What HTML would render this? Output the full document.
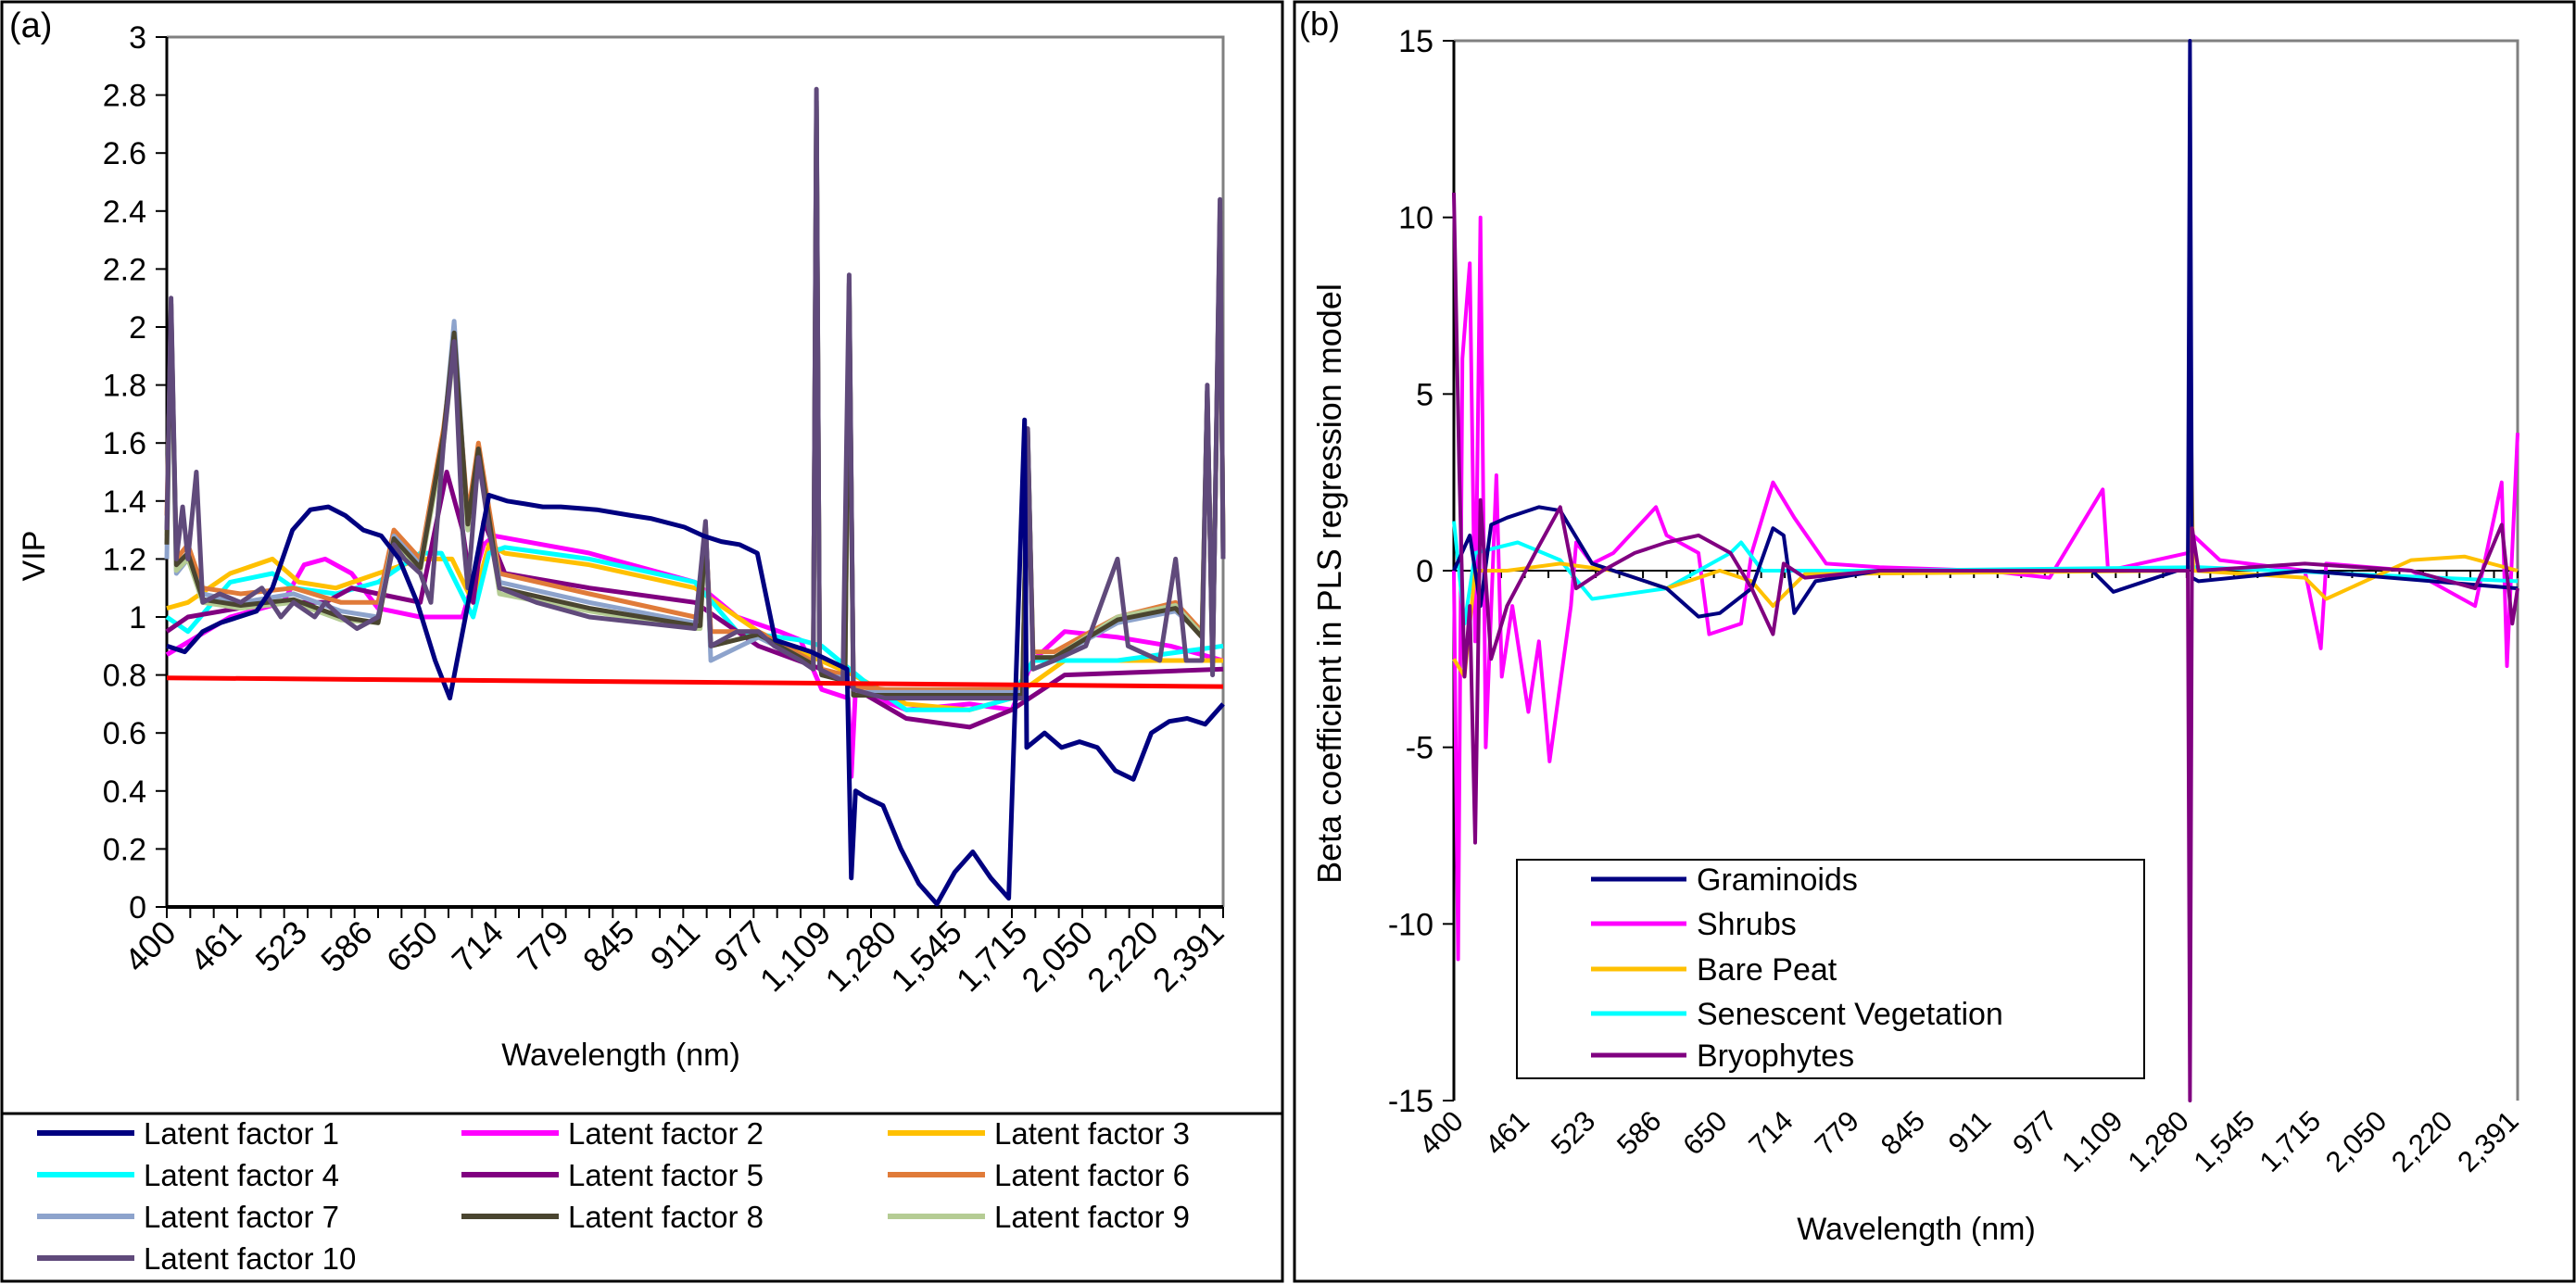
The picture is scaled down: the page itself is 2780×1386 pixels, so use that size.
<!DOCTYPE html>
<html><head><meta charset="utf-8"><style>
html,body{margin:0;padding:0;background:#fff}
svg{display:block;font-family:"Liberation Sans",sans-serif}
</style></head><body>
<svg id="chart" width="2780" height="1386" viewBox="0 0 2780 1386" xmlns="http://www.w3.org/2000/svg">
<rect x="2" y="2" width="1382" height="1381" fill="none" stroke="#000" stroke-width="3"/>
<line x1="2" y1="1202" x2="1384" y2="1202" stroke="#000" stroke-width="3"/>
<rect x="1397" y="2" width="1381" height="1381" fill="none" stroke="#000" stroke-width="3"/>
<text x="10" y="40" font-size="38">(a)</text>
<text x="1402" y="38" font-size="36">(b)</text>
<g id="ga"></g>
<g id="gb"></g>
</svg>
<script>
// ---- shared category data ----
const xTickLabels = ["400","461","523","586","650","714","779","845","911","977","1,109","1,280","1,545","1,715","2,050","2,220","2,391"];
const xTickBands = [0,62,124,186,248,310,372,434,496,558,620,682,744,806,868,930,992];
const bandMax = 1000;

// ---- panel a data (VIP) ----
const aYTicks = [0,0.2,0.4,0.6,0.8,1,1.2,1.4,1.6,1.8,2,2.2,2.4,2.6,2.8,3];
const aYTickLabels = ["0","0.2","0.4","0.6","0.8","1","1.2","1.4","1.6","1.8","2","2.2","2.4","2.6","2.8","3"];
const lf1Bands = [0,17,34,51,68,85,100,119,136,153,169,186,203,220,237,254,268,288,305,322,339,356,373,407,440,458,490,508,525,542,559,576,593,610,627,644,648,652,661,678,695,712,729,746,763,780,797,812,814,831,847,864,881,898,915,932,949,966,983,1000];
const lf1Vals = [0.9,0.88,0.95,0.98,1.0,1.02,1.1,1.3,1.37,1.38,1.35,1.3,1.28,1.2,1.05,0.85,0.72,1.1,1.42,1.4,1.39,1.38,1.38,1.37,1.35,1.34,1.31,1.28,1.26,1.25,1.22,0.92,0.9,0.88,0.85,0.82,0.1,0.4,0.38,0.35,0.2,0.08,0.01,0.12,0.19,0.1,0.03,1.68,0.55,0.6,0.55,0.57,0.55,0.47,0.44,0.6,0.64,0.65,0.63,0.7];
const lf2Bands = [0,60,110,130,150,175,200,240,280,300,310,400,500,540,580,600,620,645,648,652,700,760,800,820,850,900,950,1000];
const lf2Vals = [0.87,1.0,1.05,1.18,1.2,1.15,1.03,1.0,1.0,1.25,1.28,1.22,1.12,1.0,0.95,0.92,0.75,0.72,0.45,0.75,0.68,0.7,0.68,0.85,0.95,0.93,0.9,0.85];
const lf3Bands = [0,20,60,100,125,160,200,240,270,290,305,320,400,500,560,600,650,700,760,800,850,1000];
const lf3Vals = [1.03,1.05,1.15,1.2,1.12,1.1,1.15,1.2,1.2,1.05,1.25,1.22,1.18,1.1,0.95,0.88,0.8,0.7,0.68,0.72,0.85,0.85];
const lf4Bands = [0,20,60,100,120,160,200,240,260,290,305,320,400,500,540,600,620,660,700,760,800,820,900,1000];
const lf4Vals = [1.0,0.95,1.12,1.15,1.1,1.08,1.12,1.22,1.22,1.0,1.22,1.24,1.2,1.12,0.95,0.92,0.9,0.78,0.68,0.68,0.72,0.85,0.85,0.9];
const lf5Bands = [0,20,100,150,175,200,240,265,280,290,300,320,400,500,560,620,700,760,800,850,1000];
const lf5Vals = [0.95,1.0,1.05,1.05,1.1,1.08,1.05,1.5,1.3,1.05,1.33,1.15,1.1,1.05,0.9,0.82,0.65,0.62,0.68,0.8,0.82];
const lf6Bands = [0,4,9,20,34,70,120,165,200,215,240,262,272,285,295,315,400,500,505,510,515,560,610,612,615,618,620,642,646,650,680,760,810,815,820,840,900,955,980,985,990,997,1000];
const lf6Vals = [1.35,2.0,1.2,1.25,1.1,1.08,1.1,1.05,1.05,1.3,1.2,1.65,1.95,1.35,1.6,1.15,1.08,1.0,1.0,1.3,0.95,0.95,0.85,0.85,2.7,0.85,0.82,0.8,2.1,0.76,0.75,0.75,0.75,1.6,0.88,0.88,1.0,1.05,0.95,1.75,0.85,2.35,1.25];
const lf7Bands = [0,4,9,20,34,70,120,165,200,215,240,262,272,285,295,315,400,500,505,510,515,560,610,612,615,618,620,642,646,650,680,760,810,815,820,840,900,955,980,985,990,997,1000];
const lf7Vals = [1.2,2.05,1.15,1.2,1.08,1.05,1.08,1.02,1.0,1.28,1.18,1.62,2.02,1.3,1.55,1.12,1.05,0.98,0.98,1.3,0.85,0.93,0.84,0.84,2.75,0.84,0.8,0.79,2.12,0.74,0.74,0.74,0.74,1.62,0.86,0.86,0.98,1.02,0.94,1.78,0.84,2.38,1.22];
const lf8Bands = [0,4,9,20,34,70,120,165,200,215,240,262,272,285,295,315,400,500,505,510,515,560,610,612,615,618,620,642,646,650,680,760,810,815,820,840,900,955,980,985,990,997,1000];
const lf8Vals = [1.25,2.08,1.18,1.22,1.06,1.04,1.06,1.0,0.98,1.27,1.17,1.63,1.98,1.32,1.58,1.1,1.03,0.97,0.97,1.32,0.9,0.94,0.84,0.84,2.78,0.84,0.8,0.78,2.15,0.73,0.73,0.73,0.73,1.64,0.86,0.86,0.99,1.03,0.93,1.78,0.83,2.4,1.22];
const lf9Bands = [0,4,9,20,34,70,120,165,200,215,240,262,272,285,295,315,400,500,505,510,515,560,610,612,615,618,620,642,646,650,680,760,810,815,820,840,900,955,980,985,990,997,1000];
const lf9Vals = [1.28,2.06,1.16,1.2,1.05,1.03,1.05,0.99,0.98,1.26,1.16,1.6,1.93,1.3,1.56,1.08,1.02,0.96,0.96,1.3,0.9,0.94,0.84,0.84,2.76,0.84,0.8,0.78,2.14,0.73,0.73,0.73,0.73,1.63,0.86,0.86,1.0,1.04,0.94,1.77,0.84,2.39,1.21];
const lf10Bands = [0,4,9,15,20,28,34,50,70,90,108,120,140,150,165,180,200,215,225,240,250,262,272,280,285,295,305,315,350,400,450,500,510,515,540,560,575,600,612,615,618,640,646,650,680,720,760,800,812,815,820,840,870,900,910,940,955,965,980,985,990,997,1000];
const lf10Vals = [1.3,2.1,1.2,1.38,1.2,1.5,1.05,1.08,1.05,1.1,1.0,1.05,1.0,1.05,1.0,0.96,1.0,1.25,1.2,1.15,1.05,1.6,1.95,1.3,1.1,1.55,1.3,1.1,1.05,1.0,0.98,0.96,1.33,0.9,0.95,0.95,0.9,0.85,0.82,2.82,0.82,0.78,2.18,0.75,0.72,0.72,0.72,0.72,0.72,1.65,0.82,0.85,0.9,1.2,0.9,0.85,1.2,0.85,0.85,1.8,0.8,2.44,1.2];
const redBands = [0,1000];
const redVals = [0.79,0.76];

// ---- panel b data (beta coefficients) ----
const bYTicks = [-15,-10,-5,0,5,10,15];
const bYTickLabels = ["-15","-10","-5","0","5","10","15"];
const gramBands = [0,15,25,35,50,80,100,130,170,200,230,250,280,300,310,320,340,400,600,620,680,690,692,694,700,800,1000];
const gramVals = [0,1.0,-1,1.3,1.5,1.8,1.7,0.2,-0.2,-0.5,-1.3,-1.2,-0.5,1.2,1.0,-1.2,-0.3,0,0,-0.6,0,0,15,-0.2,-0.3,0,-0.5];
const shrubBands = [0,4,8,15,20,25,30,40,45,55,70,80,90,100,110,115,130,150,190,200,230,240,270,280,300,320,350,400,500,560,610,615,690,695,720,800,815,820,900,960,985,990,1000];
const shrubVals = [0,-11,6,8.7,-2,10,-5,2.7,-3,-1,-4,-2,-5.4,-3.2,-1,0.8,0.2,0.5,1.8,1.0,0.5,-1.8,-1.5,0.5,2.5,1.5,0.2,0.1,0,-0.2,2.3,0,0.5,1,0.3,0,-2.2,0.2,0,-1.0,2.5,-2.7,3.9];
const peatBands = [0,10,20,50,100,150,200,250,280,300,330,690,692,695,800,820,900,950,1000];
const peatVals = [-2.5,-3,0,0,0.2,0,-0.5,0,-0.3,-1.0,-0.1,0,6.2,0,-0.2,-0.8,0.3,0.4,0];
const senBands = [0,10,20,60,100,130,200,260,270,290,400,700,1000];
const senVals = [1.4,-1.5,0.5,0.8,0.3,-0.8,-0.5,0.5,0.8,0,0,0.1,-0.3];
const bryoBands = [0,5,10,15,20,25,35,50,80,100,115,140,170,200,230,260,280,300,310,330,400,600,690,692,694,700,800,900,960,985,995,1000];
const bryoVals = [10.7,3,-3,-1,-7.7,2,-2.5,-1,0.7,1.8,-0.5,0,0.5,0.8,1,0.5,-0.5,-1.8,0.2,-0.2,0,0,0,-15,1.2,0,0.2,0,-0.5,1.3,-1.5,-0.5];

const NS = "http://www.w3.org/2000/svg";
function mk(tag, attrs, parent){ const e=document.createElementNS(NS,tag); for(const k in attrs) e.setAttribute(k,attrs[k]); parent.appendChild(e); return e; }

function drawPanel(g, cfg){
  const {L,R,T,B,ymin,ymax} = cfg;
  const xs = b => L + (b/bandMax)*(R-L);
  const ys = v => B - (v-ymin)/(ymax-ymin)*(B-T);
  const fr = mk('path',{d:`M${L},${T} H${R} V${B}`,fill:'none',stroke:'#808080','stroke-width':3},g);
  
  
  const ya = mk('line',{x1:L,y1:T,x2:L,y2:B,stroke:'#000','stroke-width':3},g);
  
  
  cfg.yTicks.forEach((v,i)=>{
    const t = mk('line',{x1:L-12,y1:ys(v),x2:L,y2:ys(v),stroke:'#000','stroke-width':2},g);
    
    
    const tx = mk('text',{x:L-22,y:ys(v)+12,'font-size':cfg.yFont,'text-anchor':'end',fill:'#000'},g);
    tx.textContent = cfg.yLabels[i];
    
    
  });
  const axY = ys(cfg.xAxisAt);
  const xa = mk('line',{x1:L,y1:axY,x2:R,y2:axY,stroke:'#000','stroke-width':cfg.xAxisAt===ymin?4:2},g);
  
  
  for(let k=0;k<=cfg.nMinor;k++){
    const x = L + k*(R-L)/cfg.nMinor;
    const t = mk('line',{x1:x,y1:axY,x2:x,y2:axY+cfg.tickLen,stroke:'#000','stroke-width':2},g);
    
    
  }
  xTickLabels.forEach((lab,i)=>{
    const x = xs(xTickBands[i]) + 12, y = B + cfg.xLabOff;
    const tx = mk('text',{x:x,y:y,'font-size':cfg.xFont,'text-anchor':'end',transform:`rotate(-45 ${x} ${y})`,fill:'#000'},g);
    tx.textContent = lab;
    
    
  });
  cfg.series.forEach(s=>{
    const d = s.bands.map((b,i)=>(i?'L':'M')+xs(b).toFixed(1)+','+ys(Math.max(ymin,Math.min(ymax,s.vals[i]))).toFixed(1)).join(' ');
    const p = mk('path',{d:d,fill:'none',stroke:s.color,'stroke-width':s.w||cfg.lw,'stroke-linejoin':'round'},g);
    
    
  });
}

const ga = document.getElementById('ga');
drawPanel(ga,{L:180,R:1320,T:40,B:979,ymin:0,ymax:3,yTicks:aYTicks,yLabels:aYTickLabels,yFont:34,xFont:36,xAxisAt:0,nMinor:45,tickLen:12,xLabOff:30,lw:5,
  series:[
    {name:'line-latent-factor-2',bands:lf2Bands,vals:lf2Vals,color:'#ff00ff'},
    {name:'line-latent-factor-3',bands:lf3Bands,vals:lf3Vals,color:'#ffc000'},
    {name:'line-latent-factor-4',bands:lf4Bands,vals:lf4Vals,color:'#00ffff'},
    {name:'line-latent-factor-5',bands:lf5Bands,vals:lf5Vals,color:'#800080'},
    {name:'line-latent-factor-6',bands:lf6Bands,vals:lf6Vals,color:'#e07b39'},
    {name:'line-latent-factor-7',bands:lf7Bands,vals:lf7Vals,color:'#8da3cc'},
    {name:'line-latent-factor-9',bands:lf9Bands,vals:lf9Vals,color:'#b5cc94'},
    {name:'line-latent-factor-8',bands:lf8Bands,vals:lf8Vals,color:'#4a4530'},
    {name:'line-latent-factor-10',bands:lf10Bands,vals:lf10Vals,color:'#604a7b'},
    {name:'line-latent-factor-1',bands:lf1Bands,vals:lf1Vals,color:'#000080'},
    {name:'vip-threshold-line',bands:redBands,vals:redVals,color:'#ff0000',w:5}
  ]});
const gb = document.getElementById('gb');
drawPanel(gb,{L:1569,R:2717,T:44,B:1188,ymin:-15,ymax:15,yTicks:bYTicks,yLabels:bYTickLabels,yFont:34,xFont:31,xAxisAt:0,nMinor:45,tickLen:8,xLabOff:24,lw:4,
  series:[
    {name:'line-shrubs',bands:shrubBands,vals:shrubVals,color:'#ff00ff'},
    {name:'line-senescent-vegetation',bands:senBands,vals:senVals,color:'#00ffff'},
    {name:'line-bare-peat',bands:peatBands,vals:peatVals,color:'#ffc000'},
    {name:'line-graminoids',bands:gramBands,vals:gramVals,color:'#000080'},
    {name:'line-bryophytes',bands:bryoBands,vals:bryoVals,color:'#800080'}
  ]});
</script>
<script>
const root = document.getElementById('chart');
function T(x,y,s,txt,extra){ const e=document.createElementNS(NS,'text'); e.setAttribute('x',x); e.setAttribute('y',y); e.setAttribute('font-size',s); if(extra) for(const k in extra) e.setAttribute(k,extra[k]); e.textContent=txt; root.appendChild(e); return e; }
let t;
t = T(670,1150,34,'Wavelength  (nm)',{'text-anchor':'middle'});


t = T(48,600,34,'VIP',{'text-anchor':'middle',transform:'rotate(-90 48 600)'});


t = T(2068,1338,34,'Wavelength  (nm)',{'text-anchor':'middle'});


t = T(1447,630,36,'Beta coefficient in PLS regression model',{'text-anchor':'middle',transform:'rotate(-90 1447 630)'});



const legANames = ["Latent factor 1","Latent factor 2","Latent factor 3","Latent factor 4","Latent factor 5","Latent factor 6","Latent factor 7","Latent factor 8","Latent factor 9","Latent factor 10"];
const legAColors = ['#000080','#ff00ff','#ffc000','#00ffff','#800080','#e07b39','#8da3cc','#4a4530','#b5cc94','#604a7b'];
legANames.forEach((n,i)=>{
  const col=i%3,row=Math.floor(i/3);
  const x0=[40,498,958][col], y=1223+row*45;
  const l=document.createElementNS(NS,'line');
  l.setAttribute('x1',x0);l.setAttribute('x2',x0+105);l.setAttribute('y1',y);l.setAttribute('y2',y);
  l.setAttribute('stroke',legAColors[i]);l.setAttribute('stroke-width',6);
  
  
  root.appendChild(l);
  const tx=T(x0+115,y+12,33,n);
  
  
});
const bx=document.createElementNS(NS,'rect');
bx.setAttribute('x',1637);bx.setAttribute('y',928);bx.setAttribute('width',677);bx.setAttribute('height',236);
bx.setAttribute('fill','#fff');bx.setAttribute('stroke','#000');bx.setAttribute('stroke-width',2);


root.appendChild(bx);
const legBNames=["Graminoids","Shrubs","Bare Peat","Senescent Vegetation","Bryophytes"];
const legBColors=['#000080','#ff00ff','#ffc000','#00ffff','#800080'];
legBNames.forEach((n,i)=>{
  const y=[949,997,1046,1094,1139][i];
  const l=document.createElementNS(NS,'line');
  l.setAttribute('x1',1717);l.setAttribute('x2',1820);l.setAttribute('y1',y);l.setAttribute('y2',y);
  l.setAttribute('stroke',legBColors[i]);l.setAttribute('stroke-width',5);
  
  
  root.appendChild(l);
  const tx=T(1831,y+12,34,n);
  
  
});
</script>
</body></html>
